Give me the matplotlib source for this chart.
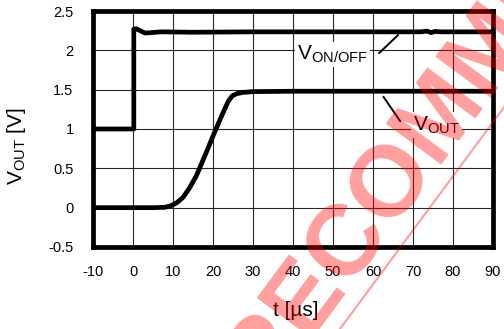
"""Turn-on waveform: V_ON/OFF step and V_OUT soft-start ramp."""

import matplotlib

matplotlib.use("Agg")
import matplotlib.pyplot as plt
import numpy as np
from matplotlib.lines import Line2D
from matplotlib.transforms import IdentityTransform

plt.rcParams["font.family"] = ["Liberation Sans", "DejaVu Sans"]
plt.rcParams["mathtext.fontset"] = "custom"
plt.rcParams["mathtext.rm"] = "Liberation Sans"
plt.rcParams["axes.unicode_minus"] = False

# values (t in us, V in volts)
t_onoff = [-10, 0.2, 0.2, 0.8, 1.8, 3.0, 4.5, 7, 15, 30, 50, 72, 73.5, 74.5, 75.5, 77, 90]
v_onoff = [1.0, 1.0, 2.27, 2.275, 2.25, 2.22, 2.225, 2.235, 2.23, 2.235, 2.235, 2.235, 2.245, 2.225, 2.24, 2.235, 2.235]

t_out = [-10, 5, 8, 9.5, 11, 12.5, 14, 15.8, 18.3, 20, 22.1, 23.8, 24.8, 26, 27.5, 30, 40, 90]
v_out = [0, 0, 0.005, 0.025, 0.065, 0.13, 0.24, 0.40, 0.70, 0.91, 1.16, 1.35, 1.42, 1.45, 1.465, 1.475, 1.48, 1.48]

x_ticks = list(range(-10, 91, 10))
y_ticks = [-0.5, 0, 0.5, 1, 1.5, 2, 2.5]
y_tick_labels = ["-0.5", "0", "0.5", "1", "1.5", "2", "2.5"]

DPI = 100
fig = plt.figure(figsize=(5.04, 3.29), dpi=DPI)
ax = fig.add_axes([93 / 504, 82 / 329, 400 / 504, 236 / 329])

ax.plot(t_onoff, v_onoff, color="black", linewidth=3.4, solid_joinstyle="round", zorder=3)
ax.plot(t_out, v_out, color="black", linewidth=3.4, solid_joinstyle="round", zorder=3)

ax.set_xlim(-10, 90)
ax.set_ylim(-0.5, 2.5)
ax.set_xticks(x_ticks)
ax.set_yticks(y_ticks)
ax.set_yticklabels(y_tick_labels)
ax.tick_params(length=0, labelsize=10.5, pad=14)
ax.tick_params(axis="x", pad=13)
ax.grid(True, color="0.15", linewidth=0.8)
ax.set_axisbelow(True)
for sp in ax.spines.values():
    sp.set_linewidth(3.4)
    sp.set_zorder(4)

# curve labels with leader lines
box = dict(facecolor="white", edgecolor="none", pad=1.5)
ax.text(58.8, 1.88, r"$\mathrm{V_{ON/OFF}}$", fontsize=15, ha="right", va="baseline",
        bbox=box, zorder=2.5)
ax.annotate("", xy=(66.8, 2.22), xytext=(61.0, 1.94),
            arrowprops=dict(arrowstyle="-", color="black", linewidth=1.4), zorder=2.5)
ax.text(70.0, 0.98, r"$\mathrm{V_{OUT}}$", fontsize=15, ha="left", va="baseline",
        bbox=box, zorder=2.5)
ax.annotate("", xy=(62.2, 1.44), xytext=(67.2, 1.07),
            arrowprops=dict(arrowstyle="-", color="black", linewidth=1.4), zorder=2.5)

fig.text(16 / 504, 1 - 146 / 329, r"$\mathrm{V_{OUT}}$ [V]", fontsize=15, rotation=90,
         ha="center", va="center")
fig.text(296 / 504, 1 - 311 / 329, "t [\u00b5s]", fontsize=15, ha="center", va="center")

# red diagonal stamp over the whole figure
ang = 53.5
u = np.array([np.cos(np.radians(ang)), np.sin(np.radians(ang))])
up = np.array([-u[1], u[0]])
start = np.array([263.0, 329 - 396.0])
fig.text(start[0] / 504, start[1] / 329, "RECOMMENDED", fontsize=72, fontweight="bold",
         color="red", alpha=0.38, rotation=ang, rotation_mode="anchor",
         ha="left", va="baseline", zorder=10)
p0 = start - 22 * up
p1 = p0 + 700 * u
fig.add_artist(Line2D([p0[0], p1[0]], [p0[1], p1[1]], transform=IdentityTransform(),
                      color="red", alpha=0.38, linewidth=1.5, zorder=10))

fig.savefig("out.png", dpi=DPI)
